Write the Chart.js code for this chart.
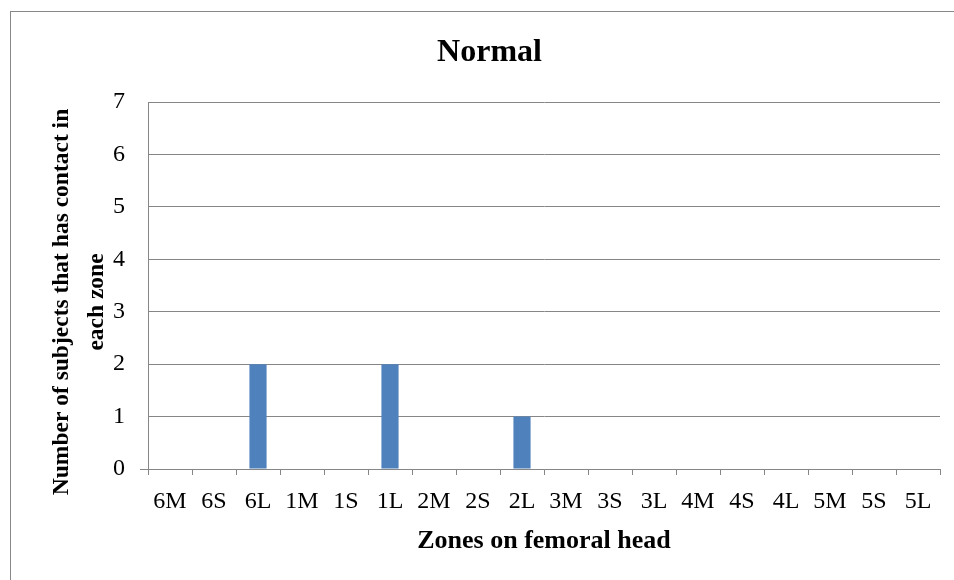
<!DOCTYPE html>
<html>
<head>
<meta charset="utf-8">
<title>Normal</title>
<script src="https://cdn.jsdelivr.net/npm/chart.js@4/dist/chart.umd.min.js"></script>
<style>
  html, body { margin: 0; padding: 0; background: #ffffff; }
  #wrap { width: 954px; height: 580px; position: relative; }
</style>
</head>
<body>
<div id="wrap"><canvas id="chart" width="954" height="580"></canvas></div>
<script>
// Zones on the femoral head and how many subjects had contact in each
const zones = ['6M', '6S', '6L', '1M', '1S', '1L', '2M', '2S', '2L',
               '3M', '3S', '3L', '4M', '4S', '4L', '5M', '5S', '5L'];
const subjectCounts = [0, 0, 2, 0, 0, 2, 0, 0, 1,
                       0, 0, 0, 0, 0, 0, 0, 0, 0];
const yTickValues = [0, 1, 2, 3, 4, 5, 6, 7];

const chartTitle = 'Normal';
const xAxisTitle = 'Zones on femoral head';
const yAxisTitle = ['Number of subjects that has contact in', 'each zone'];

const SERIF = '"Times New Roman", "Liberation Serif", "DejaVu Serif", serif';
const GRID = '#868686';
const BAR = '#4F81BD';

// White page with the chart frame's top and left edges
const framePlugin = {
  id: 'frame',
  beforeDraw(chart) {
    const ctx = chart.ctx;
    ctx.save();
    ctx.fillStyle = '#ffffff';
    ctx.fillRect(0, 0, chart.width, chart.height);
    ctx.strokeStyle = '#888888';
    ctx.lineWidth = 1;
    ctx.strokeRect(10.5, 11.5, 1200, 1200);
    ctx.restore();
  }
};

// Two-line rotated title for the value axis
const yTitlePlugin = {
  id: 'yTitle',
  afterDraw(chart) {
    const ctx = chart.ctx;
    const lineGap = 35;
    const firstX = 62;
    const centreY = 302;
    ctx.save();
    ctx.fillStyle = '#000000';
    ctx.font = 'bold 23.5px ' + SERIF;
    ctx.textAlign = 'center';
    ctx.textBaseline = 'middle';
    ctx.translate(firstX, centreY);
    ctx.rotate(-Math.PI / 2);
    yAxisTitle.forEach((line, i) => ctx.fillText(line, 0, i * lineGap));
    ctx.restore();
  }
};

Chart.defaults.font.family = SERIF;
Chart.defaults.color = '#000000';

new Chart(document.getElementById('chart'), {
  type: 'bar',
  data: {
    labels: zones,
    datasets: [{
      label: 'Subjects',
      data: subjectCounts,
      backgroundColor: BAR,
      borderWidth: 0,
      barPercentage: 0.39,
      categoryPercentage: 1.0
    }]
  },
  options: {
    responsive: false,
    animation: false,
    layout: { padding: { left: 39, right: 14, top: 0, bottom: 0 } },
    plugins: {
      legend: { display: false },
      tooltip: { enabled: false },
      title: {
        display: true,
        text: chartTitle,
        color: '#000000',
        font: { family: SERIF, size: 32, weight: 'bold', lineHeight: 1.2 },
        padding: { top: 34, bottom: 29.6 }
      }
    },
    scales: {
      x: {
        offset: true,
        grid: {
          offset: true,
          drawOnChartArea: false,
          drawTicks: true,
          tickLength: 6,
          tickColor: GRID,
          color: GRID
        },
        border: { display: true, color: GRID, width: 1 },
        ticks: {
          color: '#000000',
          font: { family: SERIF, size: 24 },
          padding: 12.5,
          maxRotation: 0,
          autoSkip: false
        },
        title: {
          display: true,
          text: xAxisTitle,
          color: '#000000',
          font: { family: SERIF, size: 26, weight: 'bold', lineHeight: 1.2 },
          padding: { top: 0, bottom: 23 }
        },
        afterFit(scale) { scale.height = 111; }
      },
      y: {
        min: 0,
        max: 7,
        afterBuildTicks(scale) {
          scale.ticks = yTickValues.map(v => ({ value: v }));
        },
        grid: {
          color: GRID,
          lineWidth: 1,
          drawTicks: true,
          tickLength: 8,
          tickColor: ctx => (ctx.tick && ctx.tick.value === 0 ? GRID : 'rgba(0,0,0,0)')
        },
        border: { display: true, color: GRID, width: 1 },
        ticks: {
          color: '#000000',
          font: { family: SERIF, size: 24 },
          padding: 15
        },
        title: { display: false },
        afterFit(scale) { scale.width = 148 - 39; }
      }
    }
  },
  plugins: [framePlugin, yTitlePlugin]
});
</script>
</body>
</html>
